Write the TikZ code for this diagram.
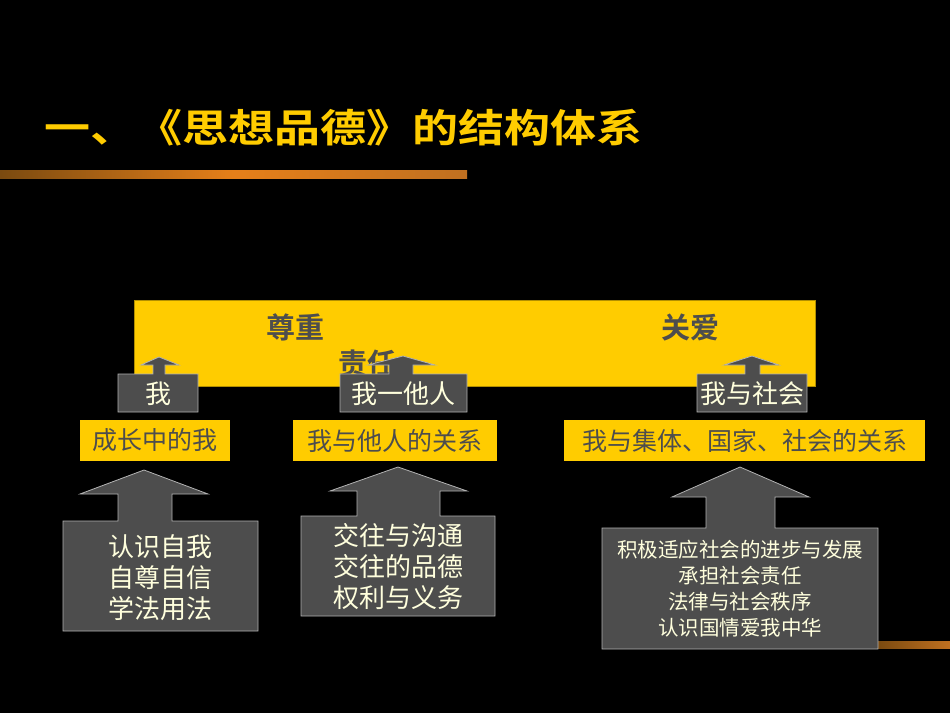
\documentclass[tikz,border=0pt]{standalone}
\usepackage{fontspec}
\newfontfamily\cjk{Noto Sans CJK SC}
\newfontfamily\cjkb{Noto Sans CJK SC Bold}
\definecolor{gold}{HTML}{FFCC00}
\definecolor{dgray}{HTML}{4D4D4D}
\definecolor{cream}{HTML}{FFFFDD}
\definecolor{stripA}{HTML}{7A4A10}
\definecolor{stripB}{HTML}{C07020}
\tikzset{
  callout/.style={fill=dgray,draw=gray!60,line width=0.8pt},
  lab/.style={fill=gold,inner sep=0pt,text=dgray,font=\cjk\fontsize{25}{27}\selectfont},
  barword/.style={text=dgray,font=\cjkb\fontsize{29}{31}\selectfont},
  ctext/.style={text=cream,align=center},
}
\begin{document}
\begin{tikzpicture}[x=1pt,y=-1pt]
\fill[black] (0,0) rectangle (950,713);
\useasboundingbox (0,0) rectangle (950,713);
% title
\node[anchor=west,text=gold,xscale=1.18,font=\cjkb\fontsize{39}{41}\selectfont] (title) at (40,128) {一、《思想品德》的结构体系};
\shade[left color=stripA,right color=stripB,middle color=orange!60!brown] (0,170) rectangle (467,178);
\shade[left color=stripA,right color=stripB] (878,641) rectangle (950,648);
% bar
\fill[gold,draw=gold!70!black] (134,300) rectangle (815,386);
\node[barword] (zz) at (295,327) {尊重};
\node[barword] (ga) at (690,327) {关爱};
\node[barword] (zr) at (367,364) {责任};
% small callouts
\draw[callout] (118,412) -- (118,374) -- (153,374) -- (153,365) -- (141,365) -- (159,357) -- (179,365) -- (165,365) -- (165,374) -- (198,374) -- (198,412) -- cycle;
\node[ctext,font=\cjk\fontsize{26}{28}\selectfont] (w) at (158,394) {我};
\draw[callout] (340,412) -- (340,374) -- (389,374) -- (389,365) -- (368,365) -- (403,356) -- (435,365) -- (413,365) -- (413,374) -- (467,374) -- (467,412) -- cycle;
\node[ctext,font=\cjk\fontsize{26}{28}\selectfont] (wt) at (403,394) {我一他人};
\draw[callout] (697,412) -- (697,374) -- (745,374) -- (745,365) -- (724,365) -- (752,356) -- (779,365) -- (760,365) -- (760,374) -- (807,374) -- (807,412) -- cycle;
\node[ctext,font=\cjk\fontsize{26}{28}\selectfont] (ws) at (752,394) {我与社会};
% labels
\node[lab,minimum width=150,minimum height=41] (l1) at (155,440.5) {成长中的我};
\node[lab,minimum width=204,minimum height=41] (l2) at (395,440.5) {我与他人的关系};
\node[lab,minimum width=361,minimum height=41] (l3) at (744.5,440.5) {我与集体、国家、社会的关系};
% bottom callouts
\draw[callout] (63,631) -- (63,521) -- (118,521) -- (118,494) -- (80,494) -- (144,470) -- (208,494) -- (172,494) -- (172,521) -- (258,521) -- (258,631) -- cycle;
\node[ctext,font=\cjk\fontsize{26}{31}\selectfont] (b1) at (160,578) {认识自我\\自尊自信\\学法用法};
\draw[callout] (301,616) -- (301,516) -- (357,516) -- (357,491) -- (330,491) -- (398,467) -- (467,491) -- (440,491) -- (440,516) -- (495,516) -- (495,616) -- cycle;
\node[ctext,font=\cjk\fontsize{26}{31}\selectfont] (b2) at (398,567) {交往与沟通\\交往的品德\\权利与义务};
\draw[callout] (602,649) -- (602,528) -- (706,528) -- (706,497) -- (672,497) -- (740,467) -- (809,497) -- (775,497) -- (775,528) -- (878,528) -- (878,649) -- cycle;
\node[ctext,font=\cjk\fontsize{20.5}{26}\selectfont] (b3) at (740,589) {积极适应社会的进步与发展\\承担社会责任\\法律与社会秩序\\认识国情爱我中华};
\end{tikzpicture}
\end{document}
